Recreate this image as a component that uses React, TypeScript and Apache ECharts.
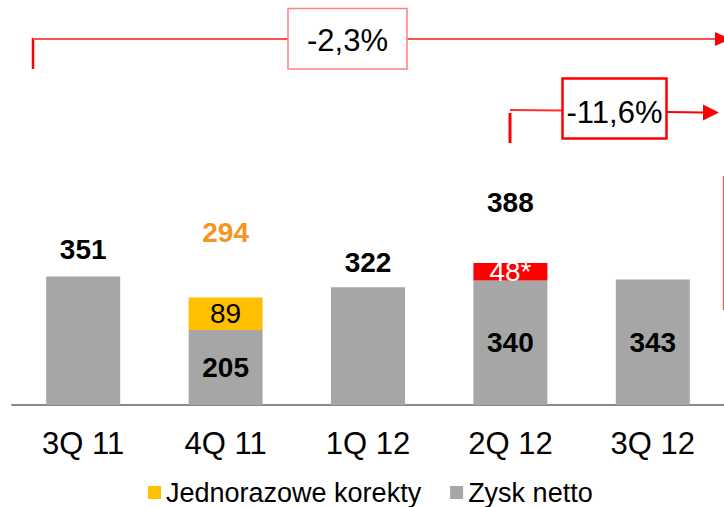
import React, { useEffect, useRef } from "react";
import * as echarts from "echarts";

const categories = ["3Q 11", "4Q 11", "1Q 12", "2Q 12", "3Q 12"];
const zyskNetto = [351, 205, 322, 340, 343];
const jednorazoweKorekty = [null, 89, null, null, null];
const korekta2Q12 = [null, null, null, 48, null];
const sumy = [351, 294, 322, 388, null];
const zmianaRoczna = "-2,3%";
const zmianaKwartalna = "-11,6%";

const FONT = "'Liberation Sans', Arial, sans-serif";
const GRAY = "#A6A6A6";
const ORANGE = "#FFC000";
const RED = "#FF0000";

export default function App() {
  const ref = useRef<HTMLDivElement>(null);
  useEffect(() => {
    if (!ref.current) return;
    const chart = echarts.init(ref.current, undefined, { renderer: "svg" });
    const insideGray = [false, true, false, true, true];
    const sumDist = [13, 51, 11, 46, 0];
    const sumColor = ["#000", "#F7941D", "#000", "#000", "#000"];
    chart.setOption({
      animation: false,
      textStyle: { fontFamily: FONT },
      grid: { left: 12, width: 714, top: 39, bottom: 102, containLabel: false },
      legend: {
        data: ["Jednorazowe korekty", "Zysk netto"],
        top: 474,
        left: 143,
        icon: "rect",
        itemWidth: 13,
        itemHeight: 13,
        itemGap: 29,
        textStyle: { fontSize: 27, color: "#000", fontFamily: FONT },
      },
      xAxis: {
        type: "category",
        data: categories,
        axisLine: { lineStyle: { color: "#888", width: 2 } },
        axisTick: { show: false },
        axisLabel: { fontSize: 31, color: "#000", margin: 23, fontFamily: FONT },
      },
      yAxis: { type: "value", min: 0, max: 1000, show: false, splitLine: { show: false } },
      series: [
        {
          name: "Zysk netto",
          type: "bar",
          stack: "a",
          barWidth: 74,
          itemStyle: { color: GRAY },
          data: zyskNetto.map((v, i) => ({
            value: v,
            label: {
              show: insideGray[i],
              position: "inside",
              fontSize: 28,
              fontWeight: "bold",
              color: "#000",
              fontFamily: FONT,
            },
          })),
        },
        {
          name: "Jednorazowe korekty",
          type: "bar",
          stack: "a",
          barWidth: 74,
          itemStyle: { color: ORANGE },
          label: { show: true, position: "inside", fontSize: 28, color: "#000", fontFamily: FONT },
          data: jednorazoweKorekty,
        },
        {
          name: "Korekta 2Q 12",
          type: "bar",
          stack: "a",
          barWidth: 74,
          itemStyle: { color: RED },
          label: {
            show: true,
            position: "inside",
            fontSize: 28,
            color: "#fff",
            fontFamily: FONT,
            formatter: (p: any) => p.value + "*",
          },
          data: korekta2Q12,
        },
        {
          name: "Suma",
          type: "scatter",
          symbolSize: 0,
          silent: true,
          itemStyle: { opacity: 1 },
          data: sumy.map((v, i) => ({
            value: v,
            label: {
              show: v != null,
              position: "top",
              distance: sumDist[i],
              fontSize: 28,
              fontWeight: "bold",
              color: sumColor[i],
              fontFamily: FONT,
            },
          })),
        },
      ],
      graphic: [
        { type: "line", shape: { x1: 33, y1: 38, x2: 33, y2: 69 }, style: { stroke: RED, lineWidth: 2.5 } },
        { type: "line", shape: { x1: 33, y1: 39, x2: 288, y2: 39 }, style: { stroke: "#FF5050", lineWidth: 2 } },
        { type: "line", shape: { x1: 407, y1: 39, x2: 716, y2: 39 }, style: { stroke: "#FF5050", lineWidth: 2 } },
        { type: "polygon", shape: { points: [[715, 32], [731, 39], [715, 46]] }, style: { fill: RED } },
        { type: "rect", shape: { x: 288, y: 8.5, width: 119, height: 60.5 }, style: { fill: "#fff", stroke: "#FF8080", lineWidth: 1.5 } },
        {
          type: "text",
          x: 347.5,
          y: 40,
          style: { text: zmianaRoczna, font: `31px ${FONT}`, fill: "#000", align: "center", verticalAlign: "middle" },
        },
        { type: "line", shape: { x1: 510, y1: 113, x2: 510, y2: 143 }, style: { stroke: RED, lineWidth: 3 } },
        { type: "line", shape: { x1: 510, y1: 110, x2: 562, y2: 110.5 }, style: { stroke: "#FF3030", lineWidth: 2 } },
        { type: "line", shape: { x1: 667, y1: 112, x2: 704, y2: 112.5 }, style: { stroke: RED, lineWidth: 2 } },
        { type: "polygon", shape: { points: [[703, 104.5], [719, 112.5], [703, 120.5]] }, style: { fill: RED } },
        { type: "rect", shape: { x: 562.5, y: 78.5, width: 104, height: 60 }, style: { fill: "#fff", stroke: RED, lineWidth: 2.5 } },
        {
          type: "text",
          x: 614.5,
          y: 112.5,
          style: { text: zmianaKwartalna, font: `31px ${FONT}`, fill: "#000", align: "center", verticalAlign: "middle" },
        },
        { type: "line", shape: { x1: 723.5, y1: 176, x2: 723.5, y2: 310 }, style: { stroke: "#E06666", lineWidth: 1.5 } },
      ],
    });
    return () => chart.dispose();
  }, []);
  return <div ref={ref} style={{ width: 724, height: 507, position: "absolute", left: 0, top: 0 }} />;
}
